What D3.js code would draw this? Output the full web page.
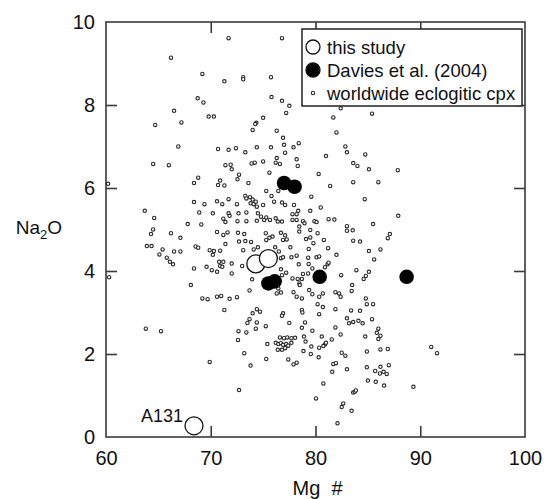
<!DOCTYPE html>
<html>
<head>
<meta charset="utf-8">
<script src="https://cdn.jsdelivr.net/npm/d3@7"></script>
<style>
  body { margin: 0; background: #fff; }
  svg { display: block; font-family: Arial, "Liberation Sans", sans-serif; }
</style>
</head>
<body>
<svg id="chart" width="544" height="499"></svg>
<script>
// axis ticks
var xTicks = [60, 70, 80, 90, 100];
var yTicks = [0, 2, 4, 6, 8, 10];

// this study (Mg#, Na2O)
var studyData = [[74.3, 4.17], [75.5, 4.30], [68.4, 0.27]];
var studyLabels = ["", "", "A131"];

// Davies et al. (2004)
var daviesData = [[77.0, 6.12], [78.0, 6.03], [75.5, 3.70], [76.1, 3.75], [80.4, 3.86], [88.7, 3.86]];

// worldwide eclogitic cpx
var cpxData = [
 [60.2,6.1],[60.3,3.85],
 [71.7,9.61],[76.8,9.61],[66.2,9.14],[69.2,8.75],[71.3,8.57],[73.1,8.67],[73.1,8.62],[75.75,8.67],[68.75,8.16],[69.3,8.06],[75.8,8.19],[76.8,8.10],[77.5,7.98],[66.5,7.86],[77.2,7.81],[67.2,7.58],[64.7,7.52],[69.8,7.72],[70.3,7.72],[75.0,7.69],[74.35,7.57],[74.25,7.54],[74.0,7.40],[76.3,7.38],[76.9,7.21],[66.9,7.0],[70.7,6.94],[71.7,6.92],[72.4,6.96],[73.3,6.86],[74.4,6.98],[75.75,6.98],[77.0,7.04],[77.1,6.85],[76.3,6.72],[64.5,6.58],[66.0,6.55],[71.4,6.55],[71.9,6.56],[73.9,6.59],[74.2,6.61],[75.0,6.64],[76.2,6.61],[76.6,6.58],
 [82.4,7.92],[81.7,7.70],[85.4,7.79],[82.0,7.34],[78.4,7.08],[77.9,6.98],[78.2,6.69],[82.85,7.0],[83.0,6.86],[81.0,6.77],[84.75,6.81],
 [78.3,6.53],[83.6,6.6],[84.0,6.53],[85.1,6.45],[87.85,6.43],[80.3,6.34],[81.4,6.05],[83.6,6.14],[86.0,6.14],[79.6,5.79],[84.7,5.73],[77.95,5.59],[80.5,5.53],[87.9,5.33],[78.35,5.45],[77.8,5.37],[78.2,5.37],[79.5,5.45],[77.8,5.23],[78.2,5.23],[78.8,5.2],[78.95,5.15],[79.9,5.2],[80.1,5.18],[81.25,5.25],[81.8,5.24],[78.45,5.07],[78.45,4.95],[79.5,4.99],[80.2,4.91],[83.0,5.08],[83.0,4.97],[83.55,4.98],[85.5,5.13],[79.1,4.77],[79.5,4.81],[79.8,4.67],[80.8,4.75],[83.6,4.73],[84.25,4.71],[87.1,4.89],[86.9,4.79],[77.6,4.57],[79.35,4.53],[81.2,4.55],[85.1,4.48],[86.2,4.52],[78.2,4.37],[77.7,4.33],[79.3,4.32],[80.1,4.33],[80.35,4.35],[82.0,4.39],[85.6,4.28],[78.4,4.16],[79.35,4.17],[81.15,4.16],[81.25,4.2],[79.7,4.06],[80.9,4.09],[83.9,4.02],[85.1,3.98],[84.8,3.88],[84.6,3.81],[82.45,3.9],[79.3,3.94],[78.8,3.93],[77.8,3.82],[78.3,3.81],[78.7,3.81],[78.45,3.7],[78.5,3.66],[83.5,3.66],[83.45,3.52],[79.4,3.54],[79.7,3.44],[77.9,3.49],[78.2,3.38],[78.7,3.34],[80.35,3.38],[80.7,3.46],[81.9,3.49],[82.25,3.46],[82.4,3.38],[84.8,3.34],
 [72.0,6.45],[75.6,6.37],[68.8,6.25],[68.4,6.12],[70.9,6.18],[70.7,6.07],[71.3,6.06],[72.7,6.32],[72.55,6.21],[73.6,6.12],[75.3,5.93],[76.45,5.93],[75.8,5.81],[73.3,5.81],[73.4,5.75],[73.75,5.78],[74.0,5.72],[73.8,5.63],[74.1,5.61],[74.3,5.67],[68.4,5.66],[69.4,5.61],[70.6,5.68],[71.1,5.61],[71.7,5.73],[72.5,5.61],[75.0,5.59],[76.05,5.67],[76.8,5.65],[77.1,5.59],[63.7,5.45],[68.9,5.41],[70.2,5.39],[71.7,5.39],[71.8,5.33],[72.65,5.39],[73.4,5.41],[74.4,5.55],[74.5,5.39],[74.8,5.31],[75.1,5.23],[75.3,5.29],[75.65,5.23],[76.2,5.27],[76.4,5.19],[64.6,5.28],[71.2,5.26],[71.4,5.18],[72.55,5.2],[73.4,5.2],[74.4,5.21],[76.8,5.19],[67.8,5.13],[69.1,5.12],[64.5,5.0],[64.3,4.89],[66.2,4.91],[67.1,4.8],[70.6,4.94],[71.2,4.87],[71.6,4.93],[72.6,4.92],[73.2,4.89],[75.25,4.91],[75.9,4.83],[76.7,4.92],[77.1,4.86],[76.9,4.75],[77.25,4.76],[75.3,4.75],[75.6,4.8],[72.7,4.71],[73.3,4.72],[73.85,4.7],[71.4,4.65],[63.9,4.6],[64.35,4.6],[65.4,4.52],[68.55,4.59],[68.8,4.56],[65.1,4.4],[66.5,4.47],[67.1,4.47],[65.8,4.32],[66.1,4.22],[66.4,4.16],[69.9,4.5],[70.3,4.48],[70.2,4.39],[70.9,4.49],[70.8,4.22],[71.2,4.22],[70.9,4.12],[71.1,4.1],[72.0,4.18],[73.1,4.5],[74.1,4.52],[74.5,4.57],[76.15,4.57],[76.5,4.47],[76.7,4.31],[76.9,4.33],[73.0,4.12],[68.4,4.06],[69.6,4.1],[70.1,4.02],[70.6,3.98],[72.0,3.94],[76.7,4.04],[77.2,3.96],[76.8,3.9],[73.95,3.8],[68.1,3.66],[73.7,3.53],[76.45,3.58],[76.7,3.48],[76.3,3.46],[69.2,3.34],[69.7,3.32],[70.6,3.38],[71.0,3.4],[71.8,3.33],[72.5,3.37],
 [71.3,3.06],[74.4,3.08],[74.7,3.02],[74.0,2.98],[73.7,2.84],[73.5,2.75],[74.4,2.76],[76.9,2.98],[76.8,2.92],[77.5,2.75],[75.25,2.67],[74.3,2.61],[63.8,2.61],[65.25,2.55],[72.65,2.55],[73.4,2.52],[72.6,2.34],[76.6,2.4],[77.0,2.38],[77.3,2.4],[75.4,2.24],[76.2,2.27],[76.45,2.24],[76.7,2.26],[76.9,2.22],[77.2,2.24],[77.4,2.2],[76.4,2.1],[76.8,2.1],[77.1,2.14],[73.2,2.02],[69.9,1.81],[73.8,1.72],[75.3,1.88],[77.4,1.87],[72.7,1.13],
 [80.2,3.2],[84.9,3.2],[85.5,3.2],[78.7,3.06],[78.75,3.0],[80.7,3.13],[81.9,3.08],[80.35,2.96],[83.4,3.05],[84.25,3.04],[83.0,2.86],[83.2,2.74],[83.6,2.77],[84.1,2.8],[84.5,2.74],[85.4,2.84],[79.0,2.76],[78.7,2.63],[81.9,2.64],[79.7,2.56],[86.0,2.61],[85.85,2.51],[86.2,2.44],[86.0,2.36],[82.4,2.47],[84.75,2.42],[78.9,2.42],[78.05,2.39],[77.7,2.38],[80.6,2.42],[81.55,2.35],[79.05,2.3],[77.7,2.27],[80.9,2.23],[81.0,2.27],[80.75,2.19],[79.6,2.18],[80.35,2.15],[78.85,2.07],[79.55,2.0],[80.3,1.92],[82.5,2.03],[82.85,1.96],[84.9,2.06],[86.2,2.11],[86.9,2.12],[78.2,1.79],[77.9,1.75],[81.7,1.76],[81.95,1.78],[83.0,1.63],[84.9,1.68],[86.2,1.69],[87.0,1.73],[85.7,1.59],[86.15,1.53],[86.5,1.57],[86.8,1.52],[81.6,1.57],[85.0,1.36],[85.75,1.33],[86.55,1.24],[89.35,1.21],[80.75,1.29],[83.6,1.07],[83.75,1.09],[83.85,1.12],[80.05,0.93],[82.65,0.81],[82.5,0.72],[83.45,0.63],[82.1,0.33],[91.05,2.17],[91.6,2.02]
];

var legendItems = ["this study", "Davies et al. (2004)", "worldwide eclogitic cpx"];

var svg = d3.select("#chart");
var mLeft = 106, mRight = 525, mTop = 22, mBottom = 437;

var x = d3.scaleLinear().domain([60, 100]).range([mLeft, mRight]);
var y = d3.scaleLinear().domain([0, 10]).range([mBottom, mTop]);

var frameColor = "#3a3a3a";

// axes, ticks pointing inward
var innerX = xTicks.slice(1, -1), innerY = yTicks.slice(1, -1);

svg.append("g").attr("class", "ax")
  .attr("transform", "translate(0," + mBottom + ")")
  .call(d3.axisBottom(x).tickValues(xTicks).tickSizeInner(0).tickSizeOuter(0).tickPadding(14).tickFormat(d3.format("d")));
svg.append("g").attr("class", "ax")
  .attr("transform", "translate(" + mLeft + ",0)")
  .call(d3.axisLeft(y).tickValues(yTicks).tickSizeInner(0).tickSizeOuter(0).tickPadding(11).tickFormat(d3.format("d")));
svg.append("g").attr("class", "tk")
  .attr("transform", "translate(0," + mBottom + ")")
  .call(d3.axisBottom(x).tickValues(innerX).tickSize(-11).tickFormat(""));
svg.append("g").attr("class", "tk")
  .attr("transform", "translate(0," + mTop + ")")
  .call(d3.axisTop(x).tickValues(innerX).tickSize(-11).tickFormat(""));
svg.append("g").attr("class", "tk")
  .attr("transform", "translate(" + mLeft + ",0)")
  .call(d3.axisLeft(y).tickValues(innerY).tickSize(-11).tickFormat(""));
svg.append("g").attr("class", "tk")
  .attr("transform", "translate(" + mRight + ",0)")
  .call(d3.axisRight(y).tickValues(innerY).tickSize(-11).tickFormat(""));

svg.selectAll(".ax .domain, .tk .domain").remove();
svg.selectAll(".ax text").attr("font-size", 20).attr("fill", "#111");
svg.selectAll(".tk line").attr("stroke", frameColor).attr("stroke-width", 1.6);

// frame
svg.append("rect")
  .attr("x", mLeft).attr("y", mTop)
  .attr("width", mRight - mLeft).attr("height", mBottom - mTop)
  .attr("fill", "none").attr("stroke", frameColor).attr("stroke-width", 1.6);

// axis titles
svg.append("text")
  .attr("x", (mLeft + mRight) / 2 + 2).attr("y", 495)
  .attr("text-anchor", "middle").attr("font-size", 20).attr("fill", "#111")
  .style("white-space", "pre")
  .text("Mg  #");

var yl = svg.append("text")
  .attr("x", 62).attr("y", 234)
  .attr("text-anchor", "end").attr("font-size", 19).attr("fill", "#111");
yl.append("tspan").text("Na");
yl.append("tspan").attr("font-size", 13).attr("dy", 5).text("2");
yl.append("tspan").attr("dy", -5).text("O");

// worldwide cpx
svg.append("g").selectAll("circle")
  .data(cpxData)
  .enter().append("circle")
  .attr("cx", function(d) { return x(d[0]); })
  .attr("cy", function(d) { return y(d[1]); })
  .attr("r", 1.7)
  .attr("fill", "#fff")
  .attr("stroke", "#2a2a2a")
  .attr("stroke-width", 1.1);

// Davies et al.
svg.append("g").selectAll("circle")
  .data(daviesData)
  .enter().append("circle")
  .attr("cx", function(d) { return x(d[0]); })
  .attr("cy", function(d) { return y(d[1]); })
  .attr("r", 7.3)
  .attr("fill", "#000");

// this study
svg.append("g").selectAll("circle")
  .data(studyData)
  .enter().append("circle")
  .attr("cx", function(d) { return x(d[0]); })
  .attr("cy", function(d) { return y(d[1]); })
  .attr("r", 9)
  .attr("fill", "#fff")
  .attr("stroke", "#111")
  .attr("stroke-width", 1.3);

svg.append("g").selectAll("text")
  .data(studyData)
  .enter().append("text")
  .attr("x", function(d) { return x(d[0]) - 11; })
  .attr("y", function(d) { return y(d[1]) - 4; })
  .attr("text-anchor", "end")
  .attr("font-size", 18)
  .attr("fill", "#111")
  .text(function(d, i) { return studyLabels[i]; });

// legend
var lg = svg.append("g").attr("transform", "translate(302,29)");
lg.append("rect")
  .attr("width", 220).attr("height", 77)
  .attr("fill", "#fff").attr("stroke", "#222").attr("stroke-width", 1.5);

var rows = lg.selectAll("g.row")
  .data(legendItems)
  .enter().append("g")
  .attr("class", "row")
  .attr("transform", function(d, i) { return "translate(0," + (18 + i * 23) + ")"; });

rows.append("circle")
  .attr("cx", 11).attr("cy", 0)
  .attr("r", function(d, i) { return [7, 7, 1.7][i]; })
  .attr("fill", function(d, i) { return i == 1 ? "#000" : "#fff"; })
  .attr("stroke", function(d, i) { return i == 2 ? "#2a2a2a" : "#111"; })
  .attr("stroke-width", function(d, i) { return i == 2 ? 1.1 : 1.3; });

rows.append("text")
  .attr("x", 25).attr("y", 7)
  .attr("font-size", 18.5)
  .attr("fill", "#111")
  .text(function(d) { return d; });
</script>
</body>
</html>
